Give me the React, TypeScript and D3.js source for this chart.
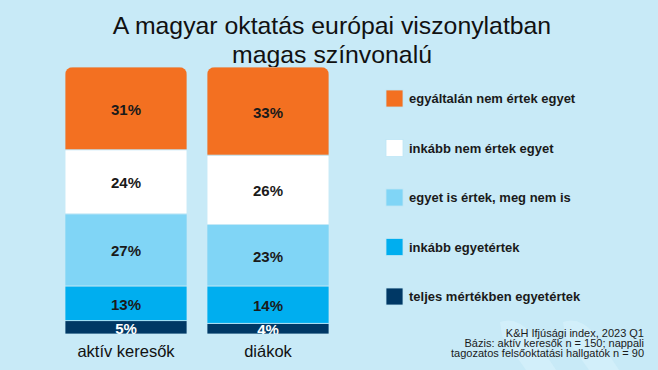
import React from "react";
import * as d3 from "d3";

const titleLines = ["A magyar oktatás európai viszonylatban", "magas színvonalú"];
const categories = ["aktív keresők", "diákok"];
const seriesNames = [
  "teljes mértékben egyetértek",
  "inkább egyetértek",
  "egyet is értek, meg nem is",
  "inkább nem értek egyet",
  "egyáltalán nem értek egyet",
];
const seriesColors = ["#003865", "#00aeef", "#80d5f6", "#ffffff", "#f37021"];
const labelColors = ["#ffffff", "#1a1a1a", "#1a1a1a", "#1a1a1a", "#1a1a1a"];
// values per series, ordered as categories
const teljes = [5, 4];
const inkabbEgyet = [13, 14];
const semleges = [27, 23];
const inkabbNem = [24, 26];
const egyaltalan = [31, 33];
const footerLines = [
  "K&H Ifjúsági index, 2023 Q1",
  "Bázis: aktív keresők n = 150; nappali",
  "tagozatos felsőoktatási hallgatók n = 90",
];

const W = 658;
const H = 370;

export default function App() {
  const seriesValues = [teljes, inkabbEgyet, semleges, inkabbNem, egyaltalan];
  const rows = categories.map((c, i) => {
    const r: any = { cat: c };
    seriesNames.forEach((s, k) => (r[s] = seriesValues[k][i]));
    return r;
  });
  const stacked = d3.stack<any>().keys(seriesNames)(rows);

  const x = d3.scaleBand().domain(categories).range([65, 329]).paddingInner(0.1408).paddingOuter(0);
  const y = d3.scaleLinear().domain([0, 100]).range([334, 67]);

  const legendY = d3.scalePoint<string>().domain([...seriesNames].reverse()).range([98.5, 296.5]);

  return (
    <svg width={W} height={H} style={{ position: "absolute", left: 0, top: 0 }} fontFamily="Arial, 'Liberation Sans', sans-serif">
      <defs>
        {categories.map((c, i) => (
          <clipPath id={`clip${i}`} key={c}>
            <rect x={x(c)!} y={y(100)} width={x.bandwidth()} height={y(0) - y(100)} rx={8} ry={8} />
            <rect x={x(c)!} y={y(100) + 10} width={x.bandwidth()} height={y(0) - y(100) - 10} />
          </clipPath>
        ))}
      </defs>
      <rect x={0} y={0} width={W} height={H} fill="#c8eaf7" />
      {/* decorative watermark arcs */}
      <path d="M500,322 Q516,316 532,334 L556,370 L526,370 L502,336 Z" fill="#d5f0fa" opacity={0.8} />
      <path d="M563,322 Q579,316 595,334 L619,370 L589,370 L565,336 Z" fill="#d5f0fa" opacity={0.8} />
      {titleLines.map((t, i) => (
        <text key={i} x={332} y={34 + i * 29} textAnchor="middle" fontSize={24.8} fill="#111">
          {t}
        </text>
      ))}
      {categories.map((c, i) => (
        <g key={c} clipPath={`url(#clip${i})`}>
          {stacked.map((s, k) => (
            <rect
              key={s.key}
              x={x(c)!}
              y={y(s[i][1])}
              width={x.bandwidth()}
              height={y(s[i][0]) - y(s[i][1])}
              fill={seriesColors[k]}
              stroke="#bfe6f5"
              strokeWidth={0.8}
            />
          ))}
          {stacked.map((s, k) => (
            <text
              key={s.key + "l"}
              x={x(c)! + x.bandwidth() / 2}
              y={(y(s[i][0]) + y(s[i][1])) / 2 + 1}
              textAnchor="middle"
              dominantBaseline="central"
              fontSize={15}
              fontWeight="bold"
              fill={labelColors[k]}
            >
              {`${s[i][1] - s[i][0]}%`}
            </text>
          ))}
        </g>
      ))}
      {categories.map((c) => (
        <text key={c + "x"} x={x(c)! + x.bandwidth() / 2} y={357} textAnchor="middle" fontSize={16.5} fill="#111">
          {c}
        </text>
      ))}
      {seriesNames.map((s, k) => (
        <g key={s + "lg"} transform={`translate(386,${legendY(s)})`}>
          <rect x={0} y={-8.5} width={17} height={17} fill={seriesColors[k]} stroke="#bfe6f5" strokeWidth={0.8} />
          <text x={23} y={0} dominantBaseline="central" fontSize={13} fontWeight="bold" fill="#1a1a1a">
            {s}
          </text>
        </g>
      ))}
      {footerLines.map((t, i) => (
        <text key={t} x={644} y={337 + i * 10} textAnchor="end" fontSize={11} fill="#1a1a1a">
          {t}
        </text>
      ))}
    </svg>
  );
}
